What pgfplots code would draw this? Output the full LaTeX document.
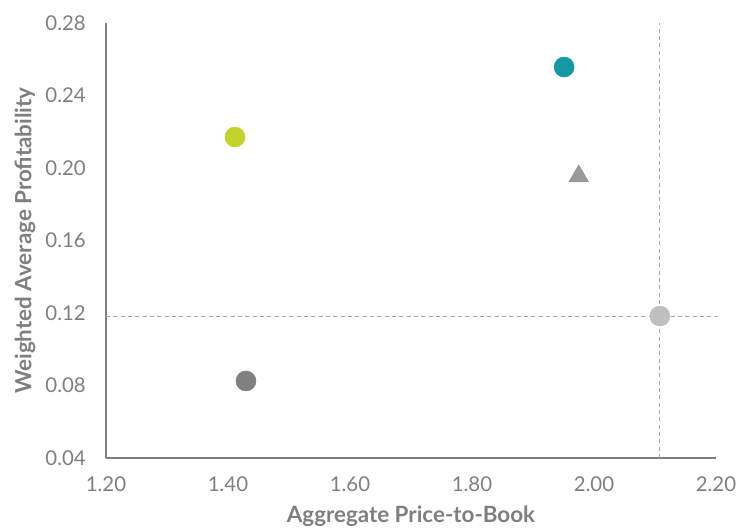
\documentclass[border=0pt]{standalone}
\usepackage{pgfplots}
\pgfplotsset{compat=1.18}
\usepackage{fontspec}
\setmainfont{Lato}
\definecolor{teal1}{HTML}{1598A6}
\definecolor{lime1}{HTML}{C2D32E}
\definecolor{tri}{HTML}{999999}
\definecolor{dgray}{HTML}{808080}
\definecolor{lgray}{HTML}{BFBFBF}
\definecolor{txt}{HTML}{7F7F7F}
\definecolor{dash}{HTML}{A6A6A6}
\begin{document}
\begin{tikzpicture}
\begin{axis}[
  scale only axis,
  width=457.5pt, height=326.25pt,
  xmin=1.2, xmax=2.2, ymin=0.04, ymax=0.28,
  xtick={1.2,1.4,...,2.21}, ytick={0.04,0.08,...,0.281},
  axis lines=left,
  axis line style={draw=dgray, line width=1.1pt, -},
  major tick length=0pt,
  tick style={draw=none},
  /pgf/number format/assume math mode=true,
  xticklabel style={/pgf/number format/.cd, fixed, fixed zerofill, precision=2, /tikz/.cd, inner sep=0pt, anchor=north, yshift=-14pt, font=\fontsize{15.3pt}{18pt}\selectfont, text=txt},
  yticklabel style={/pgf/number format/.cd, fixed, fixed zerofill, precision=2, /tikz/.cd, inner sep=0pt, anchor=east, xshift=-15pt, font=\fontsize{15.3pt}{18pt}\selectfont, text=txt},
  xlabel={Aggregate Price-to-Book},
  ylabel={Weighted Average Profitability},
  xlabel style={at={(axis description cs:0.5,-0.1333)}, anchor=center, font=\bfseries\fontsize{16.8pt}{20pt}\selectfont, text=txt},
  ylabel style={at={(axis description cs:-0.1328,0.5)}, anchor=center, rotate=0, font=\bfseries\fontsize{16.8pt}{20pt}\selectfont, text=txt},
  clip=false,
]
\addplot[draw=dash, line width=0.8pt, dash pattern=on 3pt off 2.5pt, forget plot] coordinates {(1.2,0.118) (2.203,0.118)};
\addplot[draw=dash, line width=0.8pt, dash pattern=on 3pt off 2.5pt, forget plot] coordinates {(2.108,0.04) (2.108,0.28)};
\addplot[only marks, color=teal1, mark=*, mark size=7.5pt] coordinates {(1.951,0.2557)};
\addplot[only marks, color=lime1, mark=*, mark size=7.5pt] coordinates {(1.4115,0.2171)};
\addplot[only marks, color=tri, mark=triangle*, mark size=8.5pt] coordinates {(1.975,0.1955)};
\addplot[only marks, color=dgray, mark=*, mark size=7.5pt] coordinates {(1.4295,0.0825)};
\addplot[only marks, color=lgray, mark=*, mark size=7.5pt] coordinates {(2.108,0.1183)};
\end{axis}
\pgfresetboundingbox
\path (-79.5pt,-52.5pt) rectangle (475.5pt,343.5pt);
\end{tikzpicture}
\end{document}
